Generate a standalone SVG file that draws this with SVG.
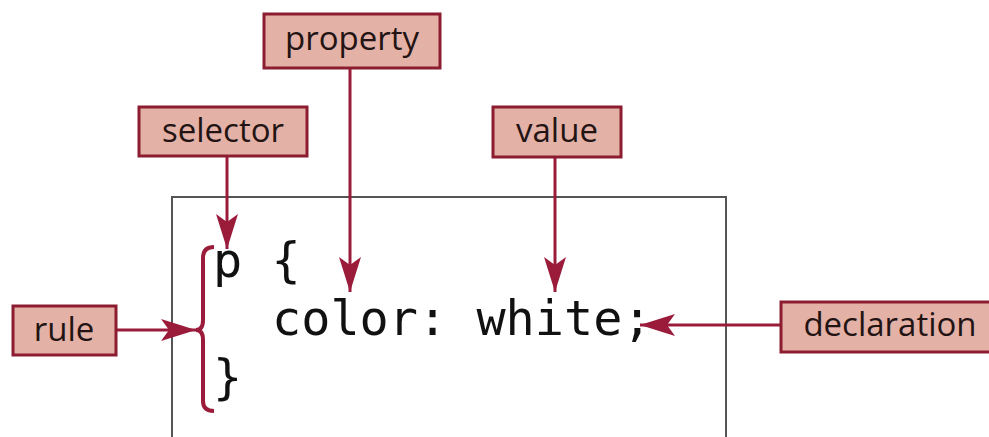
<svg xmlns="http://www.w3.org/2000/svg" width="989" height="437" viewBox="0 0 989 437">
<style>
.lbl rect{fill:#E3B1A6;stroke:#8C1C30;stroke-width:3}
.lbl text{font-family:"Open Sans","Noto Sans",sans-serif;font-size:33px;fill:#231414;text-anchor:middle}
.code{font-family:"DejaVu Sans Mono","Liberation Mono",monospace;font-size:48.5px;fill:#111}
.conn{stroke:#9B1B3B;stroke-width:3;fill:none}
</style>
<defs>
<marker id="ah" markerUnits="userSpaceOnUse" viewBox="-36 -12 38 24" refX="0" refY="0" markerWidth="38" markerHeight="24" orient="auto">
<path d="M0,0 L-35,-11 L-27,0 L-35,11 Z" fill="#9B1B3B"/>
</marker>
</defs>
<rect width="989" height="437" fill="#fff"/>
<g id="codebox">
<rect x="172" y="197" width="554" height="260" fill="#fff" stroke="#555" stroke-width="2"/>
<text class="code" x="213" y="277">p {</text>
<text class="code" x="272" y="335">color: white;</text>
<text class="code" x="213" y="394">}</text>
</g>
<g id="brace">
<path d="M214,247 Q203,247 203,258 L203,320 Q203,330 196,330 Q203,330 203,340 L203,401 Q203,411 214,411" fill="none" stroke="#9B1B3B" stroke-width="4"/>
</g>
<g id="connectors">
<line class="conn" x1="227" y1="157" x2="227" y2="249" marker-end="url(#ah)"/>
<line class="conn" x1="350" y1="68" x2="350" y2="292" marker-end="url(#ah)"/>
<line class="conn" x1="555" y1="157" x2="555" y2="292" marker-end="url(#ah)"/>
<line class="conn" x1="116" y1="330" x2="196" y2="330" marker-end="url(#ah)"/>
<line class="conn" x1="781" y1="325" x2="640" y2="325" marker-end="url(#ah)"/>
</g>
<g id="property" class="lbl">
<rect x="264" y="14" width="176" height="54"/>
<text x="352" y="50">property</text>
</g>
<g id="selector" class="lbl">
<rect x="139" y="107" width="168" height="49"/>
<text x="223" y="142">selector</text>
</g>
<g id="value" class="lbl">
<rect x="493" y="107" width="128" height="50"/>
<text x="557" y="142">value</text>
</g>
<g id="rule" class="lbl">
<rect x="13" y="306" width="103" height="49"/>
<text x="64" y="341">rule</text>
</g>
<g id="declaration" class="lbl">
<rect x="781" y="302" width="220" height="50"/>
<text x="890" y="336">declaration</text>
</g>
</svg>
